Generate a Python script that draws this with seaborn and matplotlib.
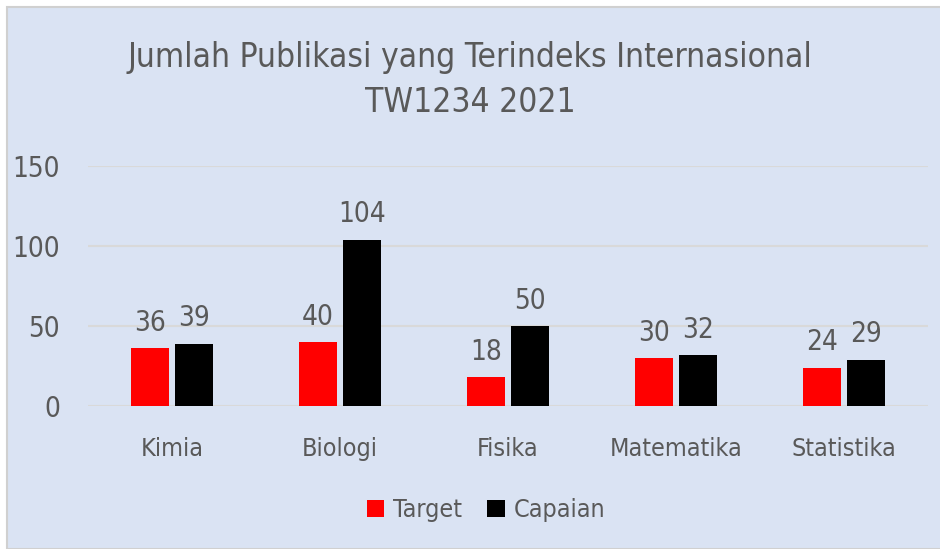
import pandas as pd
import matplotlib.pyplot as plt
import seaborn as sns
from matplotlib.patches import Rectangle

# Data
kategori = ["Kimia", "Biologi", "Fisika", "Matematika", "Statistika"]
target = [36, 40, 18, 30, 24]
capaian = [39, 104, 50, 32, 29]

df = pd.DataFrame({
    "Bidang": kategori * 2,
    "Nilai": target + capaian,
    "Seri": ["Target"] * len(kategori) + ["Capaian"] * len(kategori),
})

sns.set_style("white")
plt.rcParams['font.family'] = ['DejaVu Sans']
plt.rcParams['font.stretch'] = 'condensed'

bg = "#DAE3F3"
teks = "#595959"

fig = plt.figure(figsize=(9.4, 5.49), dpi=100, facecolor="white")
fig.patches.append(Rectangle((7 / 940, 0), 1, 1 - 7 / 549, transform=fig.transFigure,
                             facecolor=bg, edgecolor="#D0D0D0", linewidth=1.5, zorder=-5))
ax = fig.add_axes([88 / 940, 1 - 406 / 549, 840 / 940, 240 / 549])
ax.set_zorder(2)
ax.patch.set_alpha(0)

sns.barplot(data=df, x="Bidang", y="Nilai", hue="Seri",
            palette={"Target": "#FF0000", "Capaian": "#000000"}, saturation=1,
            width=0.52, gap=0.12, linewidth=0, edgecolor="none", ax=ax, legend=True)

for cont in ax.containers:
    ax.bar_label(cont, padding=8, fontsize=20, color=teks)

ax.set_ylim(0, 150)
ax.set_yticks([0, 50, 100, 150])
ax.yaxis.grid(True, color="#D9D9D9", linewidth=1.5)
ax.set_axisbelow(True)
sns.despine(ax=ax, left=True, bottom=True)
ax.tick_params(axis="y", labelsize=20, colors=teks, length=0, pad=20)
ax.tick_params(axis="x", labelsize=18, colors=teks, length=0, pad=22)
ax.set_xlabel("")
ax.set_ylabel("")

fig.text(0.5, 1 - 58 / 549, "Jumlah Publikasi yang Terindeks Internasional",
         ha="center", va="center", fontsize=24, color=teks)
fig.text(0.5, 1 - 103 / 549, "TW1234 2021",
         ha="center", va="center", fontsize=24, color=teks)

ax.legend(loc="center", bbox_to_anchor=(486 / 940, 1 - 510 / 549), bbox_transform=fig.transFigure,
          ncol=2, frameon=False, fontsize=18, labelcolor=teks,
          handlelength=0.7, handleheight=0.7, handletextpad=0.35, columnspacing=1.0)

fig.savefig("out.png", dpi=100, facecolor="white")
